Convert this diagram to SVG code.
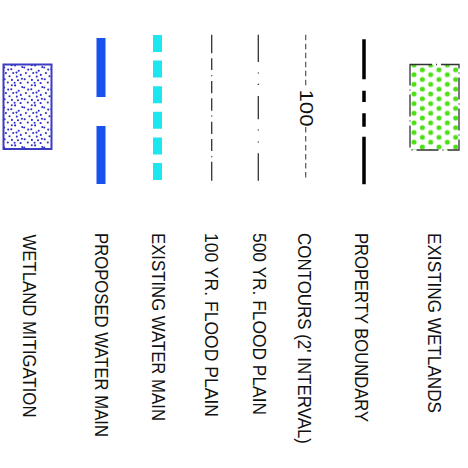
<svg xmlns="http://www.w3.org/2000/svg" width="468" height="468" viewBox="0 0 468 468">
<style>
.lbl{font-family:"Liberation Sans",Arial,sans-serif;font-size:19px;fill:#111}
</style>
<defs>
<pattern id="mitig" patternUnits="userSpaceOnUse" x="3" y="64" width="20" height="20">
<g fill="#2e2ec8">
<circle cx="1.2" cy="3.5" r="1.05"/><circle cx="8.3" cy="5.2" r="1.05"/><circle cx="12.1" cy="1.4" r="1.05"/><circle cx="15.7" cy="6.8" r="1.05"/><circle cx="2.9" cy="9.1" r="1.05"/><circle cx="6.5" cy="12.3" r="1.05"/><circle cx="10.2" cy="9.0" r="1.05"/><circle cx="13.8" cy="12.6" r="1.05"/><circle cx="17.8" cy="10.9" r="1.05"/><circle cx="1.7" cy="15.2" r="1.05"/><circle cx="4.8" cy="18.5" r="1.05"/><circle cx="8.9" cy="15.9" r="1.05"/><circle cx="11.6" cy="18.8" r="1.05"/><circle cx="15.0" cy="16.2" r="1.05"/><circle cx="18.9" cy="14.7" r="1.05"/><circle cx="5.2" cy="5.6" r="1.05"/><circle cx="17.6" cy="19.1" r="1.05"/><circle cx="8.8" cy="1.3" r="1.05"/><circle cx="19.3" cy="3.0" r="1.05"/><circle cx="13.5" cy="8.6" r="1.05"/>
</g>
</pattern>
<pattern id="wet" patternUnits="userSpaceOnUse" x="414" y="65" width="16.67" height="9.64">
<g fill="#4cdf14">
<circle cx="0" cy="0" r="2.5"/><circle cx="16.67" cy="0" r="2.5"/><circle cx="0" cy="9.64" r="2.5"/><circle cx="16.67" cy="9.64" r="2.5"/><circle cx="8.33" cy="4.82" r="2.5"/>
</g>
</pattern>
</defs>

<g id="wetland-mitigation">
<rect x="3.5" y="64.5" width="48" height="84.5" fill="url(#mitig)" stroke="#3c3cc0" stroke-width="2"/>
<text class="lbl" transform="translate(22.5,234.5) rotate(90)" textLength="183" lengthAdjust="spacingAndGlyphs">WETLAND MITIGATION</text>
</g>

<g id="proposed-water-main">
<rect x="96.5" y="38" width="9" height="59" fill="#1752ec"/>
<rect x="96.5" y="126" width="9" height="58" fill="#1752ec"/>
<text class="lbl" transform="translate(94.5,233) rotate(90)" textLength="204" lengthAdjust="spacingAndGlyphs">PROPOSED WATER MAIN</text>
</g>

<g id="existing-water-main">
<line x1="157.5" y1="35" x2="157.5" y2="181" stroke="#1ee6ee" stroke-width="9" stroke-dasharray="17 8.6"/>
<text class="lbl" transform="translate(151.5,233) rotate(90)" textLength="188" lengthAdjust="spacingAndGlyphs">EXISTING WATER MAIN</text>
</g>

<g id="flood-100">
<path d="M211.7 34.7V53.3M211.7 58.3V70M211.7 75.2V76.3M211.7 81V93.3M211.7 98.3V110.7M211.7 115.5V116.6M211.7 121.7V134M211.7 139V151M211.7 156.2V157.3M211.7 161.7V180.7" stroke="#333" stroke-width="1.3" fill="none"/>
<text class="lbl" transform="translate(204.5,233) rotate(90)" textLength="184" lengthAdjust="spacingAndGlyphs">100 YR. FLOOD PLAIN</text>
</g>

<g id="flood-500">
<path d="M258.3 34.7V62M258.3 72.5V73.6M258.3 83.8V84.9M258.3 96V119.3M258.3 129.5V130.6M258.3 141.5V142.6M258.3 153.3V180.7" stroke="#333" stroke-width="1.3" fill="none"/>
<text class="lbl" transform="translate(252.5,233) rotate(90)" textLength="182" lengthAdjust="spacingAndGlyphs">500 YR. FLOOD PLAIN</text>
</g>

<g id="contours">
<path d="M305.7 34.7V88M305.7 127V180.7" stroke="#555" stroke-width="1.2" stroke-dasharray="5.5 3.5" fill="none"/>
<text class="lbl" transform="translate(300,89.5) rotate(90)" textLength="37" lengthAdjust="spacingAndGlyphs">100</text>
<text class="lbl" transform="translate(297.5,233) rotate(90)" textLength="211" lengthAdjust="spacingAndGlyphs">CONTOURS (2' INTERVAL)</text>
</g>

<g id="property-boundary">
<path d="M364 39.3V79.3M364 90.7V102M364 113.3V126.7M364 136.7V184.3" stroke="#000" stroke-width="3.5" fill="none"/>
<text class="lbl" transform="translate(354.5,233) rotate(90)" textLength="189" lengthAdjust="spacingAndGlyphs">PROPERTY BOUNDARY</text>
</g>

<g id="existing-wetlands">
<rect x="410" y="64.5" width="49" height="85.5" fill="url(#wet)"/>
<rect x="410" y="64.5" width="49" height="85.5" fill="none" stroke="#333" stroke-width="1.3" stroke-dasharray="22 4 1 4"/>
<text class="lbl" transform="translate(427.5,233) rotate(90)" textLength="180" lengthAdjust="spacingAndGlyphs">EXISTING WETLANDS</text>
</g>
</svg>
